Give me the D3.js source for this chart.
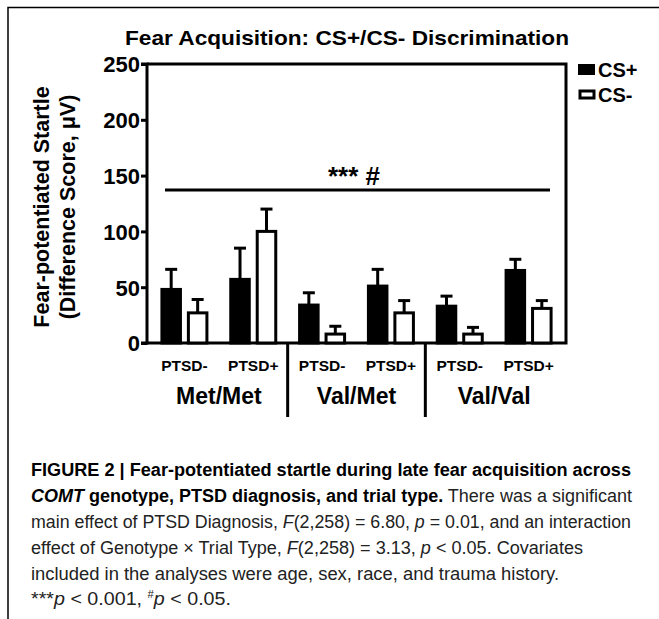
<!DOCTYPE html>
<html><head><meta charset="utf-8">
<script src="https://cdn.jsdelivr.net/npm/d3@7/dist/d3.min.js"></script>
<style>
html,body{margin:0;padding:0;background:#fff;}
svg{display:block;}
</style></head>
<body>
<svg id="chart" width="659" height="619"></svg>
<script>
// ---- data ----
const genotypes = ["Met/Met", "Val/Met", "Val/Val"];
const diagnoses = ["PTSD-", "PTSD+"];
const trialTypes = ["CS+", "CS-"];
// order: Met/Met PTSD-, Met/Met PTSD+, Val/Met PTSD-, Val/Met PTSD+, Val/Val PTSD-, Val/Val PTSD+
const csPlusMean = [48, 57, 34, 51, 33, 65];
const csPlusErr  = [18, 28, 11, 15, 9, 10];
const csMinusMean = [27, 100, 8, 27, 8, 31];
const csMinusErr  = [12, 20, 7, 11, 6, 7];
const yTicks = [0, 50, 100, 150, 200, 250];
const sigLevel = 137;
const sigLabel = "*** #";
const title = "Fear Acquisition: CS+/CS- Discrimination";
const yLabel1 = "Fear-potentiated Startle";
const yLabel2 = "(Difference Score, μV)";

const cells = [];
genotypes.forEach(g => diagnoses.forEach(d => cells.push(g + "|" + d)));
const bars = [];
cells.forEach((c, i) => {
  bars.push({cell: c, type: "CS+", v: csPlusMean[i], e: csPlusErr[i]});
  bars.push({cell: c, type: "CS-", v: csMinusMean[i], e: csMinusErr[i]});
});

const svg = d3.select("#chart");
const font = "'Liberation Sans', Arial, Helvetica, sans-serif";

// outer frame (top and left visible)
svg.append("path").attr("d", "M8,619 V7.5 H659").attr("fill", "none").attr("stroke", "#000").attr("stroke-width", 1.5);

const x0 = 147, x1 = 566, yTop = 64, yBot = 343;
const x = d3.scaleBand().domain(cells).range([150, 563]);
const y = d3.scaleLinear().domain([0, 250]).range([yBot, yTop]);
const inner = d3.scaleBand().domain(trialTypes).range([-22.5, 22.5]).paddingInner(0.3);
const cx = c => x(c) + x.bandwidth() / 2;

// title
svg.append("text").attr("x", 347).attr("y", 45).attr("text-anchor", "middle")
  .attr("font-family", font).attr("font-weight", "bold").attr("font-size", 21)
  .attr("textLength", 444).attr("lengthAdjust", "spacingAndGlyphs").text(title);

// y axis
const yAxis = d3.axisLeft(y).tickValues(yTicks).tickSize(6).tickPadding(1);
const gy = svg.append("g").attr("transform", `translate(${x0},0)`).call(yAxis);
gy.select(".domain").attr("stroke-width", 3).attr("d", `M-6,${yTop}H0V${yBot}H-6`);
gy.selectAll(".tick line").attr("stroke-width", 3);
gy.selectAll(".tick text").attr("font-family", font).attr("font-weight", "bold").attr("font-size", 22).attr("fill", "#000").attr("dy", "0.36em");

// box: top, right, bottom
svg.append("path").attr("d", `M${x0},${yTop}H${x1}V${yBot}H${x0}`).attr("fill", "none").attr("stroke", "#000").attr("stroke-width", 3);

// bars
const bg = svg.append("g");
bg.selectAll("line.err").data(bars).join("line")
  .attr("x1", d => cx(d.cell) + inner(d.type) + inner.bandwidth() / 2)
  .attr("x2", d => cx(d.cell) + inner(d.type) + inner.bandwidth() / 2)
  .attr("y1", d => y(d.v)).attr("y2", d => y(d.v + d.e))
  .attr("stroke", "#000").attr("stroke-width", 3);
bg.selectAll("line.cap").data(bars).join("line")
  .attr("x1", d => cx(d.cell) + inner(d.type) + inner.bandwidth() / 2 - 6)
  .attr("x2", d => cx(d.cell) + inner(d.type) + inner.bandwidth() / 2 + 6)
  .attr("y1", d => y(d.v + d.e)).attr("y2", d => y(d.v + d.e))
  .attr("stroke", "#000").attr("stroke-width", 3);
bg.selectAll("rect").data(bars).join("rect")
  .attr("x", d => cx(d.cell) + inner(d.type))
  .attr("width", inner.bandwidth())
  .attr("y", d => y(d.v)).attr("height", d => y(0) - y(d.v))
  .attr("fill", d => d.type === "CS+" ? "#000" : "#fff")
  .attr("stroke", "#000").attr("stroke-width", 3);

// significance line
svg.append("line").attr("x1", 165).attr("x2", 550).attr("y1", y(sigLevel)).attr("y2", y(sigLevel))
  .attr("stroke", "#000").attr("stroke-width", 3);
svg.append("text").attr("x", 354).attr("y", y(sigLevel) - 5).attr("text-anchor", "middle")
  .attr("font-family", font).attr("font-weight", "bold").attr("font-size", 26).text(sigLabel);

// x labels
svg.append("g").selectAll("text").data(cells).join("text")
  .attr("x", d => cx(d)).attr("y", 371).attr("text-anchor", "middle")
  .attr("font-family", font).attr("font-weight", "bold").attr("font-size", 15.5)
  .text(d => d.split("|")[1]);
svg.append("g").selectAll("text").data(genotypes).join("text")
  .attr("x", (g, i) => (cx(g + "|PTSD-") + cx(g + "|PTSD+")) / 2).attr("y", 404).attr("text-anchor", "middle")
  .attr("font-family", font).attr("font-weight", "bold").attr("font-size", 23)
  .text(d => d);
// separators
svg.append("g").selectAll("line").data(genotypes.slice(1)).join("line")
  .attr("x1", g => x(g + "|PTSD-")).attr("x2", g => x(g + "|PTSD-"))
  .attr("y1", yBot).attr("y2", 417).attr("stroke", "#000").attr("stroke-width", 3);

// y label
const yl = svg.append("g").attr("transform", "translate(0,207) rotate(-90)");
yl.append("text").attr("x", 0).attr("y", 49).attr("text-anchor", "middle")
  .attr("font-family", font).attr("font-weight", "bold").attr("font-size", 21.5).text(yLabel1);
yl.append("text").attr("x", 0).attr("y", 75).attr("text-anchor", "middle")
  .attr("font-family", font).attr("font-weight", "bold").attr("font-size", 21.5).text(yLabel2);

// legend
const lg = svg.append("g");
lg.append("rect").attr("x", 578).attr("y", 64).attr("width", 17).attr("height", 11).attr("fill", "#000");
lg.append("rect").attr("x", 580).attr("y", 91).attr("width", 14).attr("height", 7).attr("fill", "#fff").attr("stroke", "#000").attr("stroke-width", 3);
lg.append("text").attr("x", 598).attr("y", 77).attr("font-family", font).attr("font-weight", "bold").attr("font-size", 20).text("CS+");
lg.append("text").attr("x", 598).attr("y", 102).attr("font-family", font).attr("font-weight", "bold").attr("font-size", 20).text("CS-");

// caption
const cap = svg.append("g").attr("font-family", font).attr("font-size", 17.5).attr("fill", "#222");
function line(yy, w, parts) {
  const t = cap.append("text").attr("x", 31).attr("y", yy).attr("textLength", w).attr("lengthAdjust", "spacingAndGlyphs");
  parts.forEach(p => {
    const s = t.append("tspan").text(p[0]);
    if (p[1] && p[1].includes("b")) s.attr("font-weight", "bold").attr("fill", "#000");
    if (p[1] && p[1].includes("i")) s.attr("font-style", "italic");
    if (p[1] && p[1].includes("s")) s.attr("font-size", 10).attr("dy", -7);
    if (p[1] && p[1].includes("r")) s.attr("dy", 7);
  });
}
line(476, 600, [["FIGURE 2 | Fear-potentiated startle during late fear acquisition across", "b"]]);
line(502, 601, [["COMT", "bi"], [" genotype, PTSD diagnosis, and trial type.", "b"], [" There was a significant"]]);
line(528, 600, [["main effect of PTSD Diagnosis, "], ["F", "i"], ["(2,258) = 6.80, "], ["p", "i"], [" = 0.01, and an interaction"]]);
line(554, 552, [["effect of Genotype × Trial Type, "], ["F", "i"], ["(2,258) = 3.13, "], ["p", "i"], [" < 0.05. Covariates"]]);
line(580, 528, [["included in the analyses were age, sex, race, and trauma history."]]);
line(605, 200, [["***", ""], ["p", "i"], [" < 0.001, "], ["#", "s"], ["p", "ir"], [" < 0.05."]]);
</script>
</body></html>
